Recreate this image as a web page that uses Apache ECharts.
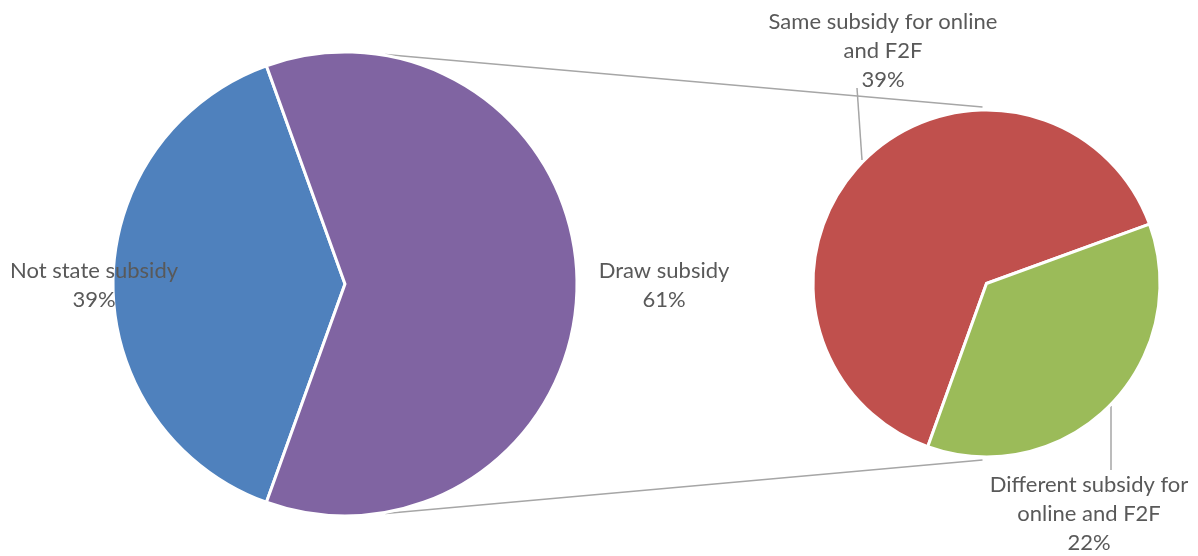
<!DOCTYPE html>
<html>
<head>
<meta charset="utf-8">
<script src="https://cdn.jsdelivr.net/npm/echarts@6/dist/echarts.min.js"></script>
<style>
html,body{margin:0;padding:0;background:#fff;}
#chart{width:1198px;height:556px;}
</style>
</head>
<body>
<div id="chart"></div>
<script>
// Data
const mainCategories = ['Not state subsidy', 'Draw subsidy'];
const mainValues = [39, 61];
const subCategories = ['Same subsidy for online\nand F2F', 'Different subsidy for\nonline and F2F'];
const subValues = [39, 22];
const mainColors = ['#4F81BD', '#8064A2'];
const subColors = ['#C0504D', '#9BBB59'];

// Layout
const L = { cx: 345, cy: 284, r: 232 };
const R = { cx: 986.5, cy: 283.5, r: 173.5 };
const mainLabelPos = [[94, 285], [664, 285]];
const subLabelPos = [[883, 51], [1089, 514]];
const subLeaderLines = [[[857, 88], [862, 160]], [[1111, 470], [1111, 406]]];

const font = 'Lato, Carlito, Calibri, sans-serif';
const textColor = '#595959';

const mainTotal = mainValues.reduce((a, b) => a + b, 0);
const mainStart = 180 + (mainValues[0] / mainTotal) * 180;
const subStart = mainStart;

const chart = echarts.init(document.getElementById('chart'));

const deg = Math.PI / 180;
const ang = 80;
const connectors = [
  [[L.cx + (L.r) * Math.cos(ang * deg), L.cy - (L.r + 1) * Math.sin(ang * deg)], [R.cx - 4, R.cy - R.r - 3]],
  [[L.cx + (L.r) * Math.cos(ang * deg), L.cy + (L.r + 1) * Math.sin(ang * deg)], [R.cx - 4, R.cy + R.r + 3]]
];

const labelStyle = {
  show: true,
  position: 'outside',
  alignTo: 'none',
  overflow: 'none',
  color: textColor,
  fontFamily: font,
  fontSize: 22,
  lineHeight: 29,
  align: 'center',
  formatter: p => p.name + '\n' + p.value + '%'
};

chart.setOption({
  backgroundColor: '#fff',
  animation: false,
  series: [
    {
      type: 'pie',
      center: [L.cx, L.cy],
      radius: [0, L.r],
      startAngle: mainStart,
      clockwise: true,
      z: 2,
      itemStyle: { borderColor: '#fff', borderWidth: 3 },
      label: labelStyle,
      labelLine: { show: false },
      labelLayout: p => ({
        x: mainLabelPos[p.dataIndex][0],
        y: mainLabelPos[p.dataIndex][1],
        align: 'center',
        verticalAlign: 'middle'
      }),
      emphasis: { disabled: true },
      data: mainCategories.map((n, i) => ({ name: n, value: mainValues[i], itemStyle: { color: mainColors[i] } }))
    },
    {
      type: 'pie',
      center: [R.cx, R.cy],
      radius: [0, R.r],
      startAngle: subStart,
      clockwise: true,
      z: 2,
      itemStyle: { borderColor: '#fff', borderWidth: 3 },
      label: labelStyle,
      labelLine: { show: true, lineStyle: { color: '#A6A6A6', width: 1.5 } },
      labelLayout: p => ({
        x: subLabelPos[p.dataIndex][0],
        y: subLabelPos[p.dataIndex][1],
        align: 'center',
        verticalAlign: 'middle',
        labelLinePoints: subLeaderLines[p.dataIndex]
      }),
      emphasis: { disabled: true },
      data: subCategories.map((n, i) => ({ name: n, value: subValues[i], itemStyle: { color: subColors[i] } }))
    }
  ],
  graphic: connectors.map(c => ({
    type: 'line',
    z: 1,
    silent: true,
    shape: { x1: c[0][0], y1: c[0][1], x2: c[1][0], y2: c[1][1] },
    style: { stroke: '#A6A6A6', lineWidth: 1.5 }
  }))
});
</script>
</body>
</html>
